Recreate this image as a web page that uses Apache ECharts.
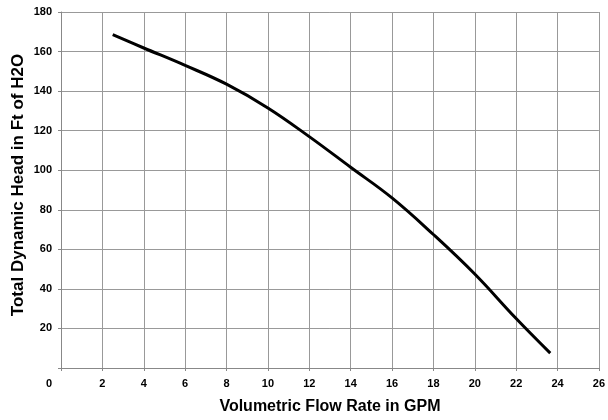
<!DOCTYPE html>
<html><head><meta charset="utf-8">
<script src="https://cdn.jsdelivr.net/npm/echarts@6/dist/echarts.min.js"></script>
<style>html,body{margin:0;padding:0;background:#fff}#c{width:608px;height:420px}</style>
</head><body><div id="c"></div>
<script>
var flowGPM = [2.5, 4, 6, 8, 10, 12, 14, 16, 18, 20, 22, 23.65];
var headFt = [168.5, 161.8, 153, 143.5, 131.5, 117, 101.5, 86, 67.5, 47.5, 25, 7.5];
var xTitle = 'Volumetric Flow Rate in GPM';
var yTitle = 'Total Dynamic Head in Ft of H2O';

var chart = echarts.init(document.getElementById('c'));
var font = 'Liberation Sans, Arial, sans-serif';
chart.setOption({
  animation: false,
  grid: {left: 61, right: 7, top: 12, bottom: 48},
  xAxis: {
    type: 'value', min: 0, max: 26, interval: 2,
    name: xTitle, nameLocation: 'middle', nameGap: 31,
    nameTextStyle: {fontFamily: font, fontWeight: 'bold', fontSize: 16, color: '#000'},
    axisLine: {show: true, lineStyle: {color: '#888', width: 1}},
    axisTick: {show: true, length: 3, lineStyle: {color: '#888'}},
    axisLabel: {fontFamily: font, fontWeight: 'bold', fontSize: 11, color: '#000', margin: 10,
      formatter: function(v){ return v === 0 ? '' : String(v); }},
    splitLine: {show: true, lineStyle: {color: '#999', width: 1}}
  },
  yAxis: {
    type: 'value', min: 0, max: 180, interval: 20,
    axisLine: {show: true, lineStyle: {color: '#888', width: 1}},
    axisTick: {show: true, length: 3, lineStyle: {color: '#888'}},
    axisLabel: {fontFamily: font, fontWeight: 'bold', fontSize: 11, color: '#000', margin: 9,
      formatter: function(v){ return v === 0 ? '' : String(v); }},
    splitLine: {show: true, lineStyle: {color: '#999', width: 1}}
  },
  graphic: [
    {type: 'text', left: 46, top: 378, style: {text: '0', font: 'bold 11px ' + font, fill: '#000'}},
    {type: 'text', x: 18, y: 185, rotation: Math.PI / 2,
     style: {text: yTitle, font: 'bold 17px ' + font, fill: '#000', align: 'center', verticalAlign: 'middle'}}
  ],
  series: [{
    type: 'line', smooth: 0.4, symbol: 'none',
    lineStyle: {color: '#000', width: 3},
    data: flowGPM.map(function(x, i){ return [x, headFt[i]]; })
  }]
});
</script></body></html>
